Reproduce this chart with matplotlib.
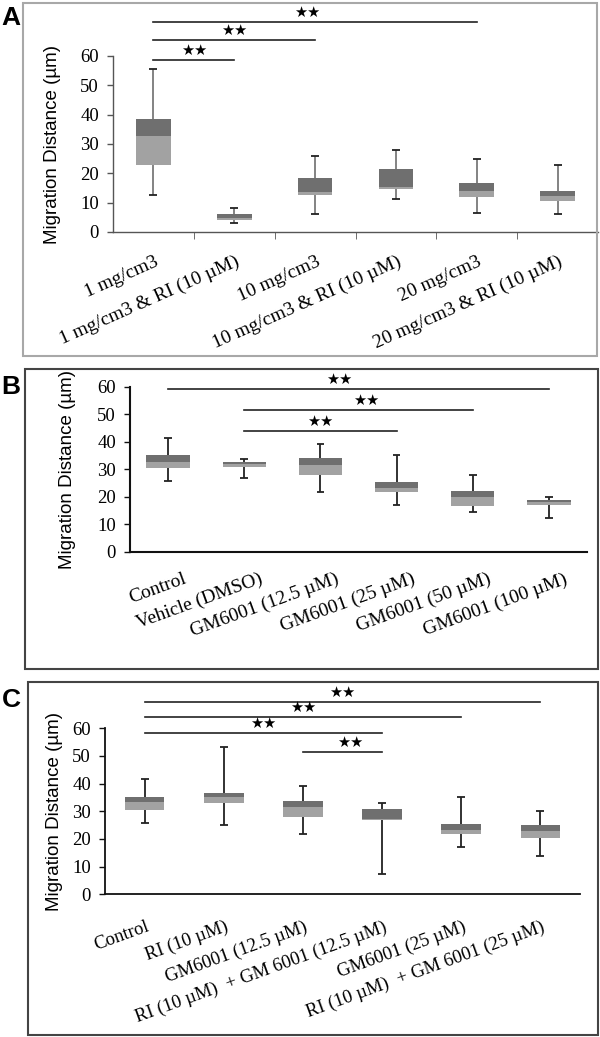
import matplotlib
matplotlib.use('Agg')
import matplotlib.pyplot as plt
from matplotlib.patches import Rectangle

# panel A
labels_a = ['1 mg/cm3', '1 mg/cm3 & RI (10 µM)', '10 mg/cm3',
            '10 mg/cm3 & RI (10 µM)', '20 mg/cm3', '20 mg/cm3 & RI (10 µM)']
lo_a = [12.6, 2.9, 6.1, 11.2, 6.5, 6.1]
q1_a = [23.0, 4.1, 12.5, 14.5, 12.1, 10.5]
med_a = [32.6, 4.9, 13.8, 15.2, 14.1, 12.2]
q3_a = [38.6, 6.1, 18.4, 21.5, 16.7, 13.9]
hi_a = [55.5, 8.3, 26.0, 28.1, 24.8, 22.9]
# (from, to, line y, star x)
sig_a = [(0, 1, 58.7, 0.5), (0, 2, 65.3, 1.0), (0, 4, 71.6, 1.9)]

# panel B
labels_b = ['Control', 'Vehicle (DMSO)', 'GM6001 (12.5 µM)', 'GM6001 (25 µM)',
            'GM6001 (50 µM)', 'GM6001 (100 µM)']
lo_b = [25.8, 26.7, 21.7, 17.0, 14.3, 12.2]
q1_b = [30.4, 30.9, 27.9, 21.6, 16.6, 17.0]
med_b = [32.8, 31.9, 31.4, 23.0, 19.9, 17.9]
q3_b = [35.0, 32.6, 33.9, 25.5, 22.1, 18.7]
hi_b = [41.5, 33.7, 39.3, 35.0, 28.0, 19.8]
sig_b = [(0, 5, 59.1, 2.24), (1, 4, 51.5, 2.6), (1, 3, 44.0, 2.0)]

# panel C
labels_c = ['Control', 'RI (10 µM)', 'GM6001 (12.5 µM)', 'RI (10 µM)  + GM 6001 (12.5 µM)',
            'GM6001 (25 µM)', 'RI (10 µM)  + GM 6001 (25 µM)']
lo_c = [25.9, 25.1, 21.8, 7.5, 17.0, 13.9]
q1_c = [30.5, 33.1, 28.0, 26.7, 21.7, 20.5]
med_c = [33.3, 35.1, 31.4, 27.2, 23.3, 22.9]
q3_c = [35.1, 36.7, 33.9, 30.7, 25.4, 24.9]
hi_c = [41.6, 53.1, 39.3, 32.9, 35.2, 30.2]
sig_c = [(0, 5, 69.6, 2.5), (0, 4, 64.1, 2.0), (0, 3, 58.2, 1.5), (2, 3, 51.5, 2.6)]

W, H = 600, 1037
fig = plt.figure(figsize=(6, 10.37), dpi=100)

light = '#a2a2a2'
dark = '#6f6f6f'


def px_axes(left, right, y0, y60):
    return fig.add_axes([left / W, 1 - y0 / H, (right - left) / W, (y0 - y60) / H])


def draw_panel(ax, labels, lo, q1, med, q3, hi, sig, width, wcol, scol, slw,
               rot, fs, dx, dy, ylab_x):
    x = range(len(labels))
    ax.vlines(x, lo, hi, color=wcol, lw=1.3, zorder=1)
    ax.hlines(lo, [i - 0.05 for i in x], [i + 0.05 for i in x], color='#222222', lw=1.3, zorder=1)
    ax.hlines(hi, [i - 0.05 for i in x], [i + 0.05 for i in x], color='#222222', lw=1.3, zorder=1)
    ax.bar(x, [m - a for m, a in zip(med, q1)], bottom=q1, width=width, color=light, zorder=2)
    ax.bar(x, [b - m for b, m in zip(q3, med)], bottom=med, width=width, color=dark, zorder=2)
    for a, b, y, sx in sig:
        ax.plot([a, b], [y, y], color='#222222', lw=1.2, clip_on=False)
        ax.annotate('★★', (sx, y), xytext=(0, 7), textcoords='offset points',
                    ha='center', va='center', fontsize=10.5, family='DejaVu Sans',
                    annotation_clip=False)
    ax.set_xlim(-0.5, 5.5)
    ax.set_ylim(0, 60)
    ax.set_yticks(range(0, 70, 10))
    ax.set_xticks([])
    for i, lbl in zip(x, labels):
        ax.annotate(lbl, (i, 0), xytext=(dx * 0.72, -dy * 0.72), textcoords='offset points',
                    rotation=rot, ha='right', va='center', rotation_mode='anchor',
                    family='Liberation Serif', fontsize=fs, annotation_clip=False)
    ax.tick_params(axis='y', direction='out', length=4, width=1, color=scol, pad=6)
    for t in ax.get_yticklabels():
        t.set_family('Liberation Serif')
        t.set_fontsize(13.5)
    for s in ['top', 'right']:
        ax.spines[s].set_visible(False)
    for s in ['left', 'bottom']:
        ax.spines[s].set_color(scol)
        ax.spines[s].set_linewidth(slw)
    pos = ax.get_position()
    fig.text(ylab_x / W, pos.y0 + pos.height / 2, 'Migration Distance (µm)', rotation=90,
             ha='center', va='center', family='Liberation Sans', fontsize=13.5)


# A
axA = px_axes(113, 598, 232, 56)
draw_panel(axA, labels_a, lo_a, q1_a, med_a, q3_a, hi_a, sig_a, 0.43, '#7a7a7a', '#555555', 1.0,
           24, 14, 4, 29, 53)
axA.set_xticks([i + 0.5 for i in range(0, 5)], minor=True)
axA.tick_params(axis='x', which='minor', direction='out', length=5, color='#555555')

# B
axB = px_axes(130, 587, 551.7, 386.7)
draw_panel(axB, labels_b, lo_b, q1_b, med_b, q3_b, hi_b, sig_b, 0.57, '#222222', '#111111', 1.5,
           20, 14, 18, 27, 67)

# C
axC = px_axes(105, 580, 894.3, 728.3)
draw_panel(axC, labels_c, lo_c, q1_c, med_c, q3_c, hi_c, sig_c, 0.5, '#222222', '#111111', 1.3,
           20, 13.5, 4, 32, 55)

# panel frames and letters
frames = [(23, 3, 597, 356, '#a8a8a8'), (25, 369, 598, 669, '#444444'), (28, 682, 598, 1035, '#444444')]
for x0, y0, x1, y1, c in frames:
    fig.add_artist(Rectangle((x0 / W, 1 - y1 / H), (x1 - x0) / W, (y1 - y0) / H,
                             transform=fig.transFigure, fill=False, ec=c, lw=1.5))
for letter, ly in [('A', 18), ('B', 387), ('C', 700)]:
    fig.text(11 / W, 1 - ly / H, letter, ha='center', va='center', fontsize=19,
             fontweight='bold', family='Liberation Sans')

fig.savefig('out.png', dpi=100)
